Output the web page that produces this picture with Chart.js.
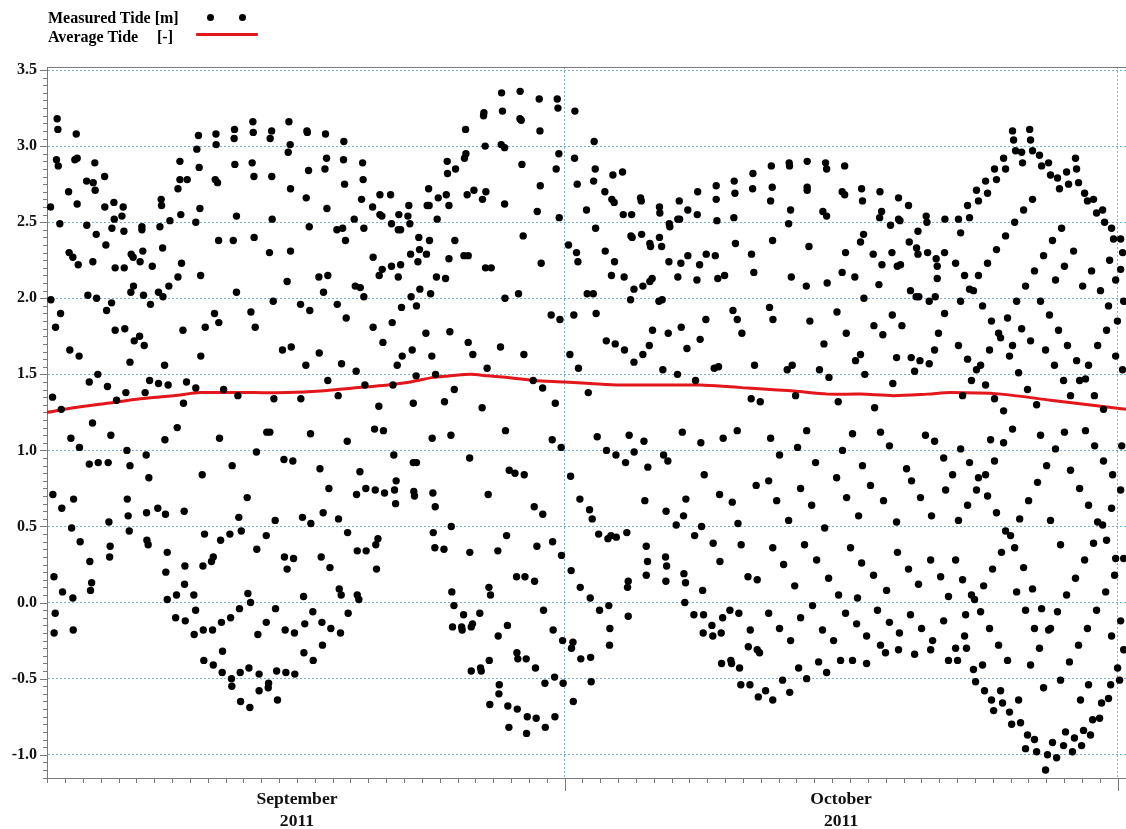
<!DOCTYPE html>
<html>
<head>
<meta charset="utf-8">
<title>Measured and average tide, September - October 2011</title>
<script src="https://cdn.jsdelivr.net/npm/chart.js@4.4.1/dist/chart.umd.min.js"></script>
<style>
  html, body { margin: 0; padding: 0; background: #fff; }
  #wrap { position: relative; width: 1126px; height: 829px; overflow: hidden; }
  #chart { position: absolute; left: 0; top: 0; }
  .legend-text { position: absolute; font: bold 16px "Liberation Serif", "Times New Roman", serif; line-height: 16px; color: #000; white-space: nowrap; }
  .legend-dot { position: absolute; width: 7px; height: 7px; border-radius: 50%; background: #000; }
  .legend-line { position: absolute; height: 3px; background: #e3161b; border-radius: 1px; }
</style>
</head>
<body>
<div id="wrap">
  <canvas id="chart" width="1126" height="829"></canvas>
  <div class="legend-text" style="left:48px; top:10px;">Measured Tide [m]</div>
  <div class="legend-dot" style="left:207px; top:14px;"></div>
  <div class="legend-dot" style="left:239px; top:14px;"></div>
  <div class="legend-text" style="left:48px; top:29px;">Average Tide</div>
  <div class="legend-text" style="left:157px; top:29px;">[-]</div>
  <div class="legend-line" style="left:196px; top:33px; width:62px;"></div>
</div>
<script>
// x values are days since 1 Sep 2011 00:00, y values are metres

const monthStarts = [30, 61];                 // 1 Oct, 1 Nov
const monthLabelDays = [15, 45.5];
const monthLabels = [['September', '2011'], ['October', '2011']];
const levelTicks = [-1.0, -0.5, 0.0, 0.5, 1.0, 1.5, 2.0, 2.5, 3.0, 3.5];

// running average (red line)
const averageDays = [0.99, 2.48, 4.38, 6.23, 8.08, 9.60, 11.28, 12.57, 14.47, 16.32, 18.17, 20.08,
  21.37, 22.66, 23.61, 24.73, 25.68, 26.80, 28.26, 30.00, 31.46, 33.14, 35.38, 37.62, 39.14,
  40.26, 41.55, 42.84, 44.75, 46.59, 48.44, 50.35, 51.64, 54.44, 57.24, 61.47];
const averageLevels = [1.25, 1.28, 1.31, 1.34, 1.36, 1.38, 1.38, 1.38, 1.38, 1.39, 1.41, 1.43,
  1.45, 1.48, 1.49, 1.50, 1.49, 1.48, 1.46, 1.45, 1.44, 1.43, 1.43, 1.43, 1.42,
  1.41, 1.40, 1.39, 1.37, 1.37, 1.36, 1.37, 1.38, 1.37, 1.33, 1.27];

// measured tide samples [day, level]
const measuredSep = [
  [1.56,3.18],[1.60,3.11],[1.52,2.91],[1.62,2.87],[2.63,3.08],[2.55,2.91],[2.68,2.92],[3.67,2.89],[3.21,2.77],[3.58,2.76],[3.69,2.71],[4.22,2.80],[2.20,2.70],[1.19,2.60],[2.68,2.62],[1.71,2.49],[4.23,2.60],[4.74,2.63],[5.26,2.60],[4.76,2.52],[5.19,2.54],[4.63,2.46],[5.30,2.44],[3.22,2.48],[3.75,2.42],[4.29,2.35],[2.23,2.30],[2.44,2.27],[2.74,2.22],[3.56,2.24],[4.81,2.20],[5.32,2.20],[5.71,2.29],[5.82,2.27],[6.21,2.24],[6.36,2.31],[6.31,2.47],[6.31,2.45],[6.89,2.21],[7.39,2.65],[7.41,2.61],[7.32,2.47],[7.47,2.33],[7.88,2.51],[8.44,2.90],[8.44,2.78],[8.85,2.78],[8.33,2.72],[8.49,2.55],[8.53,2.23],[8.33,2.14],[7.82,2.08],[9.48,3.07],[9.39,2.98],[9.52,2.86],[9.56,2.59],[9.33,2.50],[10.61,2.38],[10.46,3.08],[10.47,3.01],[10.42,2.78],[10.55,2.76],[9.60,2.15],[1.21,1.99],[3.28,2.02],[3.77,2.00],[4.61,1.97],[4.33,1.92],[5.69,2.04],[5.84,2.08],[6.40,2.02],[6.79,1.96],[7.24,2.04],[7.49,2.01],[1.47,1.81],[1.75,1.90],[2.27,1.66],[2.79,1.62],[4.81,1.79],[5.35,1.80],[5.88,1.72],[6.18,1.75],[6.44,1.69],[5.64,1.58],[7.58,1.56],[8.61,1.79],[9.61,1.62],[9.86,1.81],[10.38,1.90],[10.62,1.84],[3.36,1.45],[3.84,1.50],[4.38,1.42],[5.41,1.38],[6.49,1.38],[6.74,1.46],[7.24,1.44],[7.78,1.43],[8.81,1.45],[9.33,1.41],[10.89,1.40],[1.30,1.35],[1.79,1.27],[4.89,1.33],[8.64,1.31],
  [3.54,1.18],[2.33,1.08],[2.81,1.02],[4.57,1.10],[3.36,0.91],[3.86,0.92],[4.42,0.92],[5.47,1.00],[5.64,0.90],[6.55,0.97],[6.70,0.82],[7.60,1.07],[8.29,1.15],[10.66,1.08],[9.69,0.84],[1.32,0.71],[1.82,0.62],[2.48,0.68],[2.37,0.49],[2.85,0.40],[4.46,0.53],[5.49,0.68],[5.54,0.57],[5.60,0.47],[6.57,0.59],[7.20,0.62],[7.63,0.58],[8.68,0.60],[6.59,0.41],[6.66,0.38],[4.53,0.37],[4.50,0.30],[3.39,0.27],[7.73,0.33],[9.82,0.45],[10.72,0.41],[1.38,0.17],[1.86,0.07],[2.44,0.03],[3.49,0.13],[3.43,0.08],[7.65,0.20],[7.73,0.02],[8.25,0.05],[8.72,0.24],[8.70,0.12],[9.22,0.05],[9.73,0.24],[10.21,0.27],[10.31,0.30],[1.45,-0.07],[1.39,-0.20],[2.46,-0.18],[8.20,-0.10],[8.74,-0.12],[9.32,-0.05],[9.24,-0.21],[9.75,-0.18],[10.27,-0.18],[10.77,-0.13],[9.78,-0.38],[10.31,-0.41],[10.83,-0.32],[10.81,-0.46],
  [12.53,3.16],[12.55,3.09],[11.50,3.11],[11.48,3.05],[13.58,3.10],[13.50,3.05],[14.55,3.16],[14.62,3.01],[14.51,2.96],[15.56,3.10],[15.58,3.09],[16.60,3.08],[17.63,3.03],[11.52,2.88],[12.49,2.89],[12.59,2.80],[13.59,2.80],[15.65,2.84],[16.66,2.92],[16.57,2.85],[17.61,2.91],[17.67,2.75],[18.68,2.89],[18.71,2.78],[14.64,2.72],[15.52,2.66],[18.62,2.65],[19.24,2.60],[19.65,2.68],[20.25,2.68],[16.68,2.59],[11.61,2.54],[13.61,2.52],[15.69,2.47],[18.21,2.52],[19.65,2.55],[19.76,2.54],[20.30,2.49],[20.71,2.55],[17.24,2.45],[17.56,2.46],[17.72,2.38],[18.75,2.46],[20.68,2.45],[20.81,2.45],[11.43,2.38],[12.60,2.40],[13.46,2.30],[14.64,2.31],[19.27,2.27],[19.78,2.19],[19.61,2.15],[20.30,2.21],[20.81,2.22],[20.68,2.14],[16.23,2.14],[16.73,2.15],[14.45,2.11],[16.49,2.04],[11.61,2.04],[13.67,1.98],[18.27,2.08],[18.55,2.07],[18.75,2.01],[15.20,1.96],[15.72,1.92],[17.26,1.96],[12.42,1.91],[12.66,1.81],[17.76,1.87],[19.27,1.81],[19.82,1.71],[20.34,1.84],[20.86,1.94],[14.19,1.66],[14.68,1.68],[16.25,1.64],[15.50,1.56],[17.50,1.57],[18.32,1.52],[20.90,1.62],[20.62,1.56],[16.73,1.46],[18.81,1.43],[20.38,1.43],[11.69,1.36],[13.71,1.34],[15.22,1.34],[17.31,1.36],[19.59,1.29],
  [13.31,1.12],[13.48,1.12],[15.76,1.11],[19.35,1.14],[19.85,1.13],[17.82,1.06],[12.73,0.99],[11.37,0.90],[14.27,0.94],[14.77,0.93],[16.29,0.88],[20.43,0.97],[18.53,0.86],[12.21,0.69],[16.79,0.75],[18.34,0.71],[18.86,0.75],[19.39,0.74],[19.91,0.72],[20.47,0.74],[20.53,0.65],[20.56,0.80],[11.74,0.56],[11.88,0.47],[11.24,0.45],[13.78,0.54],[13.28,0.44],[15.31,0.56],[15.78,0.52],[16.47,0.59],[17.33,0.55],[17.84,0.46],[12.75,0.35],[14.30,0.30],[14.81,0.29],[14.45,0.22],[16.36,0.30],[16.85,0.23],[18.38,0.34],[18.88,0.34],[19.42,0.38],[19.54,0.42],[19.46,0.22],[12.25,0.06],[12.40,0.00],[11.78,-0.04],[11.28,-0.10],[13.80,-0.04],[13.28,-0.13],[12.81,-0.21],[14.34,-0.18],[14.86,-0.20],[15.37,0.04],[15.44,-0.14],[15.89,-0.06],[16.40,-0.13],[16.90,-0.17],[17.44,-0.20],[17.37,0.09],[17.48,0.05],[18.38,0.05],[18.47,0.02],[17.87,-0.07],[16.43,-0.28],[15.39,-0.33],[15.91,-0.38],[11.33,-0.50],[11.35,-0.55],[11.82,-0.46],[12.31,-0.43],[12.88,-0.47],[12.88,-0.58],[13.41,-0.53],[13.39,-0.56],[13.86,-0.45],[14.38,-0.46],[14.88,-0.47],[11.84,-0.65],[12.36,-0.69],[13.91,-0.64],
  [26.47,3.35],[27.51,3.36],[28.58,3.31],[29.59,3.31],[29.63,3.25],[26.52,3.23],[27.50,3.18],[27.57,3.17],[25.48,3.22],[25.46,3.20],[30.58,3.23],[24.45,3.11],[28.62,3.10],[25.55,3.00],[26.45,3.01],[26.64,2.99],[29.68,2.95],[24.47,2.95],[24.39,2.92],[30.56,2.92],[23.42,2.90],[23.89,2.85],[23.44,2.82],[27.61,2.88],[29.53,2.85],[30.71,2.75],[28.64,2.74],[22.38,2.72],[22.92,2.66],[23.37,2.68],[24.54,2.68],[24.92,2.71],[25.59,2.70],[25.40,2.65],[22.30,2.61],[22.41,2.61],[23.52,2.61],[21.27,2.61],[21.22,2.54],[21.33,2.49],[22.86,2.52],[26.64,2.62],[28.47,2.57],[29.70,2.53],[27.68,2.41],[21.83,2.40],[22.43,2.38],[23.85,2.38],[21.37,2.29],[21.87,2.32],[22.26,2.29],[21.78,2.24],[23.52,2.26],[24.36,2.28],[24.60,2.28],[25.57,2.20],[25.89,2.20],[28.69,2.23],[30.22,2.35],[30.67,2.30],[30.75,2.24],[22.82,2.14],[23.33,2.13],[21.89,2.06],[21.40,2.01],[22.49,2.03],[21.70,1.95],[26.66,2.00],[27.42,2.03],[29.25,1.89],[29.74,1.86],[30.52,1.89],[22.23,1.77],[23.57,1.78],[24.60,1.71],[21.46,1.66],[22.56,1.62],[24.86,1.63],[26.41,1.68],[27.72,1.63],[30.30,1.63],[30.78,1.54],[25.66,1.54],[22.77,1.50],[21.68,1.49],[28.24,1.46],[28.77,1.41],[23.82,1.40],[21.52,1.31],[23.27,1.32],[25.38,1.28],[29.48,1.31],
  [22.58,1.08],[23.63,1.10],[26.69,1.13],[29.31,1.07],[29.81,1.02],[21.52,0.92],[21.70,0.92],[24.68,0.95],[26.90,0.87],[27.22,0.85],[27.74,0.84],[30.34,0.83],[21.55,0.73],[21.59,0.70],[22.62,0.72],[22.75,0.63],[25.72,0.71],[28.30,0.63],[28.78,0.58],[30.86,0.68],[23.65,0.50],[22.64,0.46],[22.73,0.36],[23.24,0.35],[24.69,0.33],[26.26,0.34],[26.75,0.44],[28.45,0.37],[29.33,0.40],[29.83,0.31],[30.37,0.21],[27.31,0.17],[27.78,0.17],[28.32,0.14],[25.76,0.10],[25.85,0.05],[23.68,0.07],[23.80,-0.02],[24.34,-0.08],[25.25,-0.07],[30.88,0.10],[23.72,-0.16],[24.23,-0.16],[24.26,-0.18],[24.77,-0.16],[24.84,-0.14],[26.28,-0.22],[26.80,-0.15],[28.82,-0.05],[29.36,-0.18],[29.89,-0.25],[30.47,-0.26],[30.39,-0.30],[30.91,-0.37],[27.33,-0.33],[27.38,-0.37],[27.85,-0.37],[25.78,-0.38],[24.77,-0.45],[25.29,-0.43],[25.33,-0.45],[28.37,-0.43],[26.34,-0.54],[26.32,-0.60],[28.90,-0.53],[29.44,-0.49],[29.92,-0.53],[25.81,-0.67],[26.82,-0.68],[27.35,-0.70],[27.91,-0.75],[28.41,-0.76],[29.46,-0.75],[30.49,-0.65],[26.88,-0.82],[27.87,-0.86],[28.92,-0.82]
];
const measuredOct = [
  [31.66,3.03],[31.72,2.85],[31.63,2.77],[32.71,2.81],[33.25,2.83],[32.26,2.70],[32.65,2.65],[32.78,2.63],[31.23,2.58],[31.74,2.46],[33.29,2.55],[33.76,2.55],[34.26,2.66],[34.30,2.64],[35.32,2.60],[35.34,2.56],[36.43,2.64],[36.91,2.58],[37.46,2.70],[37.44,2.55],[38.50,2.74],[38.50,2.65],[39.51,2.77],[39.55,2.69],[40.56,2.82],[40.54,2.72],[35.87,2.49],[35.90,2.47],[36.35,2.52],[36.45,2.52],[38.54,2.51],[39.49,2.53],[33.72,2.41],[33.79,2.40],[34.32,2.42],[34.78,2.36],[34.82,2.34],[35.32,2.40],[35.44,2.34],[32.28,2.31],[32.80,2.24],[32.63,2.15],[33.34,2.14],[35.85,2.24],[36.52,2.23],[36.91,2.28],[37.57,2.22],[37.94,2.29],[38.45,2.28],[37.42,2.12],[36.35,2.14],[38.59,2.13],[38.97,2.15],[39.58,2.36],[40.48,2.29],[40.61,2.17],[34.91,2.13],[34.78,2.11],[34.39,2.08],[33.89,2.06],[33.70,1.99],[35.29,1.98],[35.47,1.99],[31.27,2.03],[31.61,2.03],[31.77,1.90],[32.34,1.72],[32.84,1.70],[33.36,1.66],[33.89,1.58],[34.39,1.63],[34.75,1.69],[34.93,1.79],[35.81,1.77],[36.54,1.81],[36.86,1.67],[37.60,1.73],[37.92,1.86],[39.44,1.92],[39.68,1.86],[39.94,1.77],[35.51,1.53],[36.33,1.50],[37.34,1.46],[38.39,1.54],[38.63,1.55],[40.65,1.56],[31.33,1.38],[40.46,1.34],[40.97,1.32],
  [31.83,1.09],[33.62,1.10],[34.45,1.06],[36.60,1.12],[37.64,1.05],[38.89,1.08],[39.68,1.13],[32.35,1.00],[32.88,0.97],[33.42,0.92],[33.90,0.99],[34.67,0.89],[35.55,0.97],[35.79,0.93],[37.83,0.84],[40.74,0.77],[31.40,0.61],[31.55,0.55],[34.50,0.67],[35.69,0.60],[36.80,0.68],[36.67,0.57],[36.26,0.51],[37.68,0.50],[37.29,0.44],[38.69,0.71],[39.40,0.66],[39.72,0.52],[39.90,0.38],[38.33,0.39],[31.91,0.45],[32.43,0.42],[32.60,0.44],[32.90,0.43],[33.49,0.46],[34.58,0.37],[34.65,0.27],[34.58,0.18],[35.66,0.30],[35.72,0.24],[35.68,0.14],[36.69,0.19],[36.78,0.13],[38.71,0.27],[37.74,0.08],[40.28,0.17],[40.80,0.15],[31.44,0.03],[33.57,0.14],[33.53,0.10],[31.96,-0.05],[32.48,-0.02],[33.57,-0.09],[36.74,0.00],[37.25,-0.08],[37.79,-0.08],[38.86,-0.10],[39.27,-0.05],[39.77,-0.07],[32.54,-0.17],[32.52,-0.28],[38.26,-0.15],[37.77,-0.20],[38.31,-0.22],[38.78,-0.20],[40.41,-0.18],[40.30,-0.29],[40.80,-0.31],[40.93,-0.33],[31.46,-0.36],[31.49,-0.52],[38.80,-0.40],[39.32,-0.38],[39.36,-0.40],[39.81,-0.43],[39.88,-0.54],[40.39,-0.54],[40.86,-0.62],
  [41.59,2.87],[42.59,2.89],[42.61,2.87],[43.60,2.90],[44.63,2.89],[44.69,2.85],[45.70,2.87],[41.64,2.73],[41.55,2.64],[43.60,2.73],[43.60,2.71],[42.67,2.58],[42.56,2.49],[45.56,2.70],[45.70,2.68],[44.48,2.57],[44.69,2.54],[46.65,2.72],[46.70,2.64],[47.68,2.70],[47.77,2.57],[47.66,2.53],[48.72,2.66],[49.28,2.61],[48.72,2.52],[48.80,2.51],[48.27,2.48],[50.27,2.54],[50.31,2.50],[51.32,2.52],[49.81,2.44],[41.66,2.38],[43.70,2.34],[46.76,2.42],[46.59,2.37],[45.75,2.30],[47.30,2.29],[47.79,2.22],[48.35,2.30],[48.65,2.21],[48.83,2.22],[49.32,2.37],[49.73,2.33],[49.81,2.29],[50.35,2.30],[50.83,2.26],[50.89,2.21],[51.30,2.30],[42.71,2.14],[43.55,2.08],[44.72,2.10],[45.56,2.17],[46.27,2.14],[47.62,2.09],[49.39,2.05],[49.71,2.01],[49.86,2.01],[50.44,1.98],[50.78,2.01],[50.89,2.13],[46.78,2.00],[41.49,1.94],[41.68,1.86],[43.75,1.85],[45.27,1.91],[45.79,1.77],[47.34,1.82],[47.84,1.76],[48.37,1.89],[48.91,1.82],[51.30,1.90],[50.96,1.77],[44.54,1.70],[46.59,1.63],[46.31,1.59],[48.61,1.61],[49.43,1.61],[49.92,1.59],[50.44,1.57],[50.74,1.66],[42.48,1.53],[42.76,1.56],[44.29,1.53],[44.82,1.48],[46.83,1.50],[49.62,1.52],[48.40,1.44],[42.95,1.36],[45.34,1.32],[47.38,1.28]
];
// mid/late October: coarser estimates read from the full view
const measuredLateOct = [
  [41.55,1.08],[42.05,0.97],[43.06,1.02],[43.57,1.13],[44.07,0.92],[45.58,1.00],[46.14,1.11],[46.70,0.90],[47.71,1.12],[48.21,1.03],[49.17,0.88],[50.23,1.10],[50.74,1.06],[51.25,0.95],
  [41.44,0.80],[41.89,0.67],[42.56,0.54],[43.23,0.75],[43.85,0.64],[44.58,0.49],[45.25,0.82],[45.81,0.69],[46.48,0.57],[47.15,0.77],[47.88,0.67],[48.61,0.53],[49.45,0.80],[49.95,0.69],[50.57,0.57],[51.36,0.74],
  [41.67,0.36],[42.28,0.25],[42.90,0.11],[43.45,0.38],[44.13,0.28],[44.80,0.16],[45.36,0.05],[46.03,0.36],[46.65,0.26],[47.32,0.18],[48.05,0.08],[48.66,0.33],[49.28,0.22],[49.84,0.12],[50.52,0.28],[51.08,0.17],[51.52,0.04],[46.42,0.03],
  [41.44,-0.07],[42.05,-0.17],[42.67,-0.25],[43.23,-0.10],[43.90,-0.02],[44.46,-0.18],[45.08,-0.25],[45.75,-0.07],[46.37,-0.14],[46.93,-0.22],[47.54,-0.05],[48.21,-0.13],[48.77,-0.20],[49.39,-0.08],[50.01,-0.17],[50.63,-0.25],[51.25,-0.12],[47.71,-0.28],
  [41.27,-0.58],[41.67,-0.64],[42.22,-0.51],[42.62,-0.59],[43.12,-0.43],[43.57,-0.50],[44.24,-0.39],[44.69,-0.46],[45.47,-0.38],[46.14,-0.38],[46.93,-0.40],[47.99,-0.33],[48.72,-0.31],[49.62,-0.34],[50.52,-0.31],[51.52,-0.38],
  [52.08,2.52],[52.20,2.43],[52.59,2.61],[52.70,2.53],[53.09,2.71],[53.20,2.64],[53.60,2.77],[53.71,2.69],[54.10,2.85],[54.21,2.78],[54.61,2.92],[54.72,2.85],[55.11,3.10],[55.17,3.04],[55.28,2.97],[55.62,2.96],[55.67,2.89],[56.07,3.11],[56.12,3.04],[56.23,2.97],[56.62,2.94],[56.74,2.87],[57.13,2.89],[57.24,2.81],[57.63,2.79],[57.74,2.72],[58.14,2.83],[58.25,2.75],[58.64,2.92],[58.70,2.85],[58.81,2.76],[59.15,2.69],[59.31,2.64],[59.65,2.65],[59.82,2.56],[60.16,2.58],[60.27,2.50],[60.66,2.46],[60.77,2.39],[61.17,2.39],[61.28,2.30],
  [51.92,2.23],[52.42,2.15],[52.92,2.05],[53.43,1.95],[53.93,1.85],[54.44,1.74],[54.94,1.62],[55.45,1.51],[55.95,1.40],[56.46,1.30],
  [52.20,1.98],[52.70,2.06],[53.20,2.15],[53.71,2.23],[54.21,2.32],[54.72,2.41],[55.23,2.50],[55.73,2.58],[56.23,2.65],
  [52.08,1.69],[52.59,1.60],[53.09,1.53],[53.60,1.43],[54.10,1.34],[54.61,1.26],
  [52.31,1.36],[52.81,1.46],[53.32,1.56],[53.82,1.66],[54.33,1.77],[54.83,1.87],[55.34,1.98],[55.84,2.08],[56.34,2.18],[56.85,2.28],[57.35,2.38],[57.86,2.46],
  [56.68,1.98],[57.18,1.89],[57.69,1.79],[58.19,1.69],[58.70,1.59],[59.20,1.47],[59.70,1.36],[60.21,1.27],
  [57.52,2.12],[58.02,2.21],[58.53,2.31],[59.04,2.08],[59.54,2.18],[60.04,2.05],[60.49,1.95],[60.99,1.85],[61.34,1.98],
  [58.36,1.36],[58.87,1.46],[59.37,1.56],[59.88,1.69],[60.38,1.79],[60.89,1.62],[61.28,1.53],
  [56.96,1.66],[57.46,1.56],[57.97,1.46],[56.12,1.72],[55.62,1.80],[55.11,1.69],[60.89,2.12],[61.17,2.19],[60.55,2.25],
  [51.92,-0.30],[52.03,-0.38],[52.42,-0.22],[52.53,-0.30],[52.92,-0.44],[53.04,-0.52],[53.43,-0.41],[53.54,-0.58],[53.93,-0.64],[54.05,-0.71],[54.44,-0.58],[54.55,-0.66],[54.94,-0.72],[55.06,-0.80],[55.45,-0.64],[55.56,-0.79],[55.84,-0.96],[55.95,-0.87],[56.34,-0.90],[56.46,-0.98],[56.96,-1.10],[57.07,-1.00],[57.35,-0.92],[57.58,-1.02],[57.97,-0.94],[58.08,-0.85],[58.47,-0.98],[58.58,-0.89],[58.98,-0.94],[59.09,-0.84],[59.48,-0.87],[59.60,-0.77],[59.99,-0.76],[60.10,-0.66],[60.49,-0.63],[60.61,-0.54],[61.00,-0.43],[61.11,-0.51],[61.34,-0.31],
  [52.20,1.01],[52.70,0.92],[53.20,0.82],[53.71,0.70],[54.21,0.59],[54.72,0.47],[55.23,0.36],[55.73,0.23],[56.23,0.09],[56.74,-0.04],[57.24,-0.17],
  [52.08,0.54],[52.59,0.64],[53.09,0.74],[53.60,0.84],[54.10,0.93],[54.61,1.05],[55.11,1.14],
  [52.31,0.15],[52.81,0.05],[53.32,-0.06],[53.82,-0.17],[54.33,-0.28],[54.83,-0.38],
  [52.48,-0.08],[52.98,0.02],[53.49,0.11],[53.99,0.22],[54.49,0.33],[55.00,0.44],[55.51,0.55],[56.01,0.67],[56.51,0.79],[57.02,0.90],[57.52,1.01],[58.02,1.12],
  [56.12,-0.41],[56.62,-0.30],[57.13,-0.18],[57.63,-0.06],[58.14,0.05],[58.64,0.16],[59.15,0.28],[59.65,0.39],[60.16,0.51],[60.66,0.62],[61.17,0.74],
  [57.80,-0.51],[58.30,-0.39],[58.81,-0.28],[59.31,-0.17],[59.82,-0.05],[60.33,0.07],[60.83,0.18],[61.34,0.29],
  [58.36,0.87],[58.87,0.75],[59.37,0.64],[59.88,0.53],[60.38,0.41],[60.89,0.29],
  [59.20,1.13],[59.71,1.03],[60.21,0.93],[60.72,0.84],[61.23,1.03],
  [55.34,0.07],[55.84,-0.05],[56.34,-0.17],[56.85,-0.56],[58.92,-0.64],[59.37,-0.54],[60.66,-0.22],[61.17,-0.12],
  [51.92,0.28],[51.75,0.84],[53.88,1.07],[56.68,1.10],[57.24,0.54],[57.80,0.38]
];

const axisGray = '#7a7a7a';
const gridBlue = 'rgba(110, 165, 210, 0.9)';
const labelFont = { family: '"Liberation Serif", "Times New Roman", serif', weight: 'bold' };

// minor ticks on both axes and the top frame line
const frameTicks = {
  id: 'frameTicks',
  afterDraw(chart) {
    const { ctx, chartArea: a, scales: { x, y } } = chart;
    ctx.save();
    ctx.strokeStyle = axisGray;
    ctx.lineWidth = 1;
    ctx.beginPath();
    ctx.moveTo(a.left, a.top + 0.5);
    ctx.lineTo(a.right, a.top + 0.5);
    for (let k = -23; k <= 70; k++) {
      const v = k * 0.05;
      if (v < y.min || v > y.max) continue;
      const py = Math.round(y.getPixelForValue(v)) + 0.5;
      const len = (k % 10 === 0) ? 7 : 4;
      ctx.moveTo(a.left - len, py);
      ctx.lineTo(a.left, py);
    }
    for (let d = 1; d <= 61; d++) {
      if (d < x.min) continue;
      const px = Math.round(x.getPixelForValue(d)) + 0.5;
      const len = monthStarts.includes(d) ? 13 : 5;
      ctx.moveTo(px, a.bottom);
      ctx.lineTo(px, a.bottom + len);
    }
    ctx.stroke();
    ctx.restore();
  }
};

const toPoints = rows => rows.map(r => ({ x: r[0], y: r[1] }));

new Chart(document.getElementById('chart'), {
  type: 'scatter',
  data: {
    datasets: [
      {
        label: 'Measured Tide [m]',
        data: toPoints(measuredSep.concat(measuredOct, measuredLateOct)),
        pointRadius: 3.7,
        pointBackgroundColor: '#000',
        pointBorderWidth: 0,
        order: 0
      },
      {
        type: 'line',
        label: 'Average Tide [-]',
        data: averageDays.map((d, i) => ({ x: d, y: averageLevels[i] })),
        borderColor: '#e3161b',
        borderWidth: 3,
        pointRadius: 0,
        tension: 0.3,
        order: 1
      }
    ]
  },
  options: {
    responsive: false,
    animation: false,
    layout: { autoPadding: false, padding: { top: 67, right: 0, left: 0, bottom: 0 } },
    plugins: { legend: { display: false }, tooltip: { enabled: false } },
    scales: {
      x: {
        type: 'linear',
        min: 0.99,
        max: 61.47,
        afterBuildTicks: s => {
          s.ticks = [monthLabelDays[0], monthStarts[0], monthLabelDays[1], monthStarts[1]].map(v => ({ value: v }));
        },
        afterFit: s => { s.height = 51; },
        grid: {
          drawTicks: true,
          tickLength: 11,
          tickColor: 'transparent',
          color: c => (c.tick && monthStarts.includes(c.tick.value)) ? gridBlue : 'transparent'
        },
        border: { display: true, color: axisGray, width: 1, dash: [2, 2] },
        ticks: {
          autoSkip: false,
          maxRotation: 0,
          padding: 0,
          color: '#111',
          font: Object.assign({ size: 17.6, lineHeight: 1.22 }, labelFont),
          callback: v => {
            const i = monthLabelDays.indexOf(v);
            return i >= 0 ? monthLabels[i] : '';
          }
        }
      },
      y: {
        type: 'linear',
        min: -1.153,
        max: 3.52,
        afterBuildTicks: s => { s.ticks = levelTicks.map(v => ({ value: v })); },
        afterFit: s => { s.width = 47; },
        grid: { drawTicks: false, color: gridBlue },
        border: { display: true, color: axisGray, width: 1, dash: [2, 2] },
        ticks: {
          padding: 10,
          color: '#111',
          font: Object.assign({ size: 16 }, labelFont),
          callback: v => v.toFixed(1)
        }
      }
    }
  },
  plugins: [frameTicks]
});
</script>
</body>
</html>
